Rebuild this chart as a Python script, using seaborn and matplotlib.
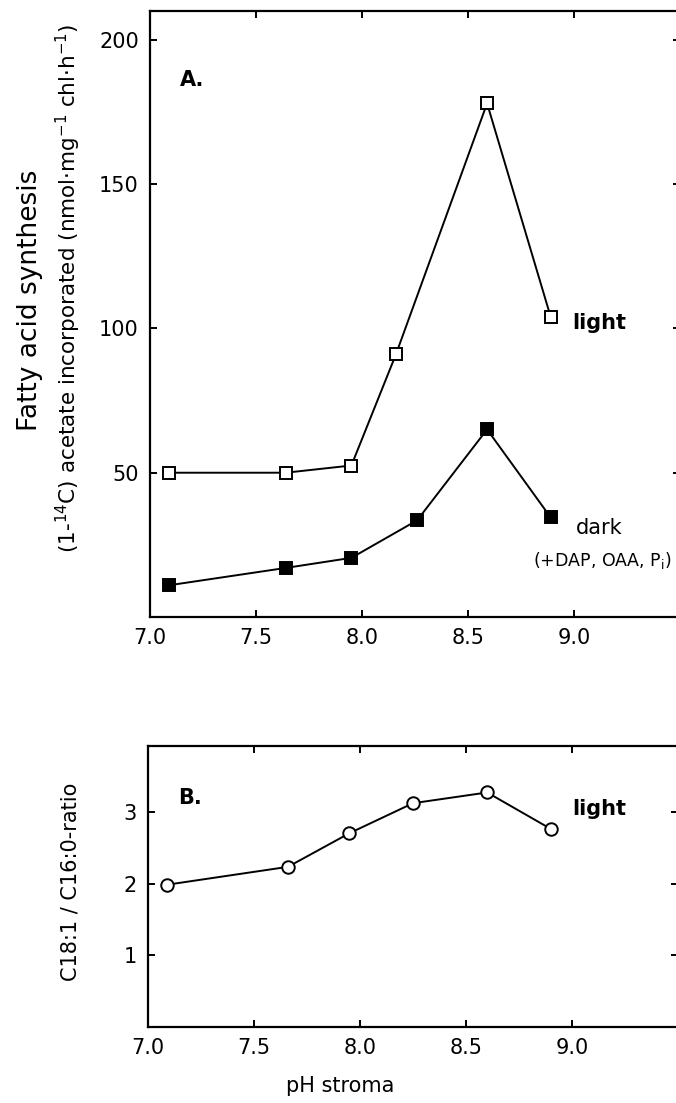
import matplotlib
matplotlib.use("Agg")
import matplotlib.pyplot as plt
import pandas as pd
import seaborn as sns

# panel A: fatty acid synthesis vs stromal pH
ph_light = [7.09, 7.64, 7.95, 8.16, 8.59, 8.89]
fa_light = [50, 50, 52.5, 91, 178, 104]
ph_dark = [7.09, 7.64, 7.95, 8.26, 8.59, 8.89]
fa_dark = [11, 17, 20.5, 33.5, 65, 34.5]

# panel B: C18:1 / C16:0 ratio (light)
ph_ratio = [7.09, 7.66, 7.95, 8.25, 8.60, 8.90]
ratio_light = [1.99, 2.24, 2.71, 3.13, 3.28, 2.77]

x_ticks = [7.0, 7.5, 8.0, 8.5, 9.0]
x_ticklabels = ["7.0", "7.5", "8.0", "8.5", "9.0"]
a_yticks = [50, 100, 150, 200]
b_yticks = [1, 2, 3]


def style_axis(ax):
	for side in ["left", "right", "top", "bottom"]:
		ax.spines[side].set_visible(True)
		ax.spines[side].set_linewidth(1.6)
		ax.spines[side].set_color("black")
	ax.tick_params(direction="in", length=5, width=1.4, top=True, right=True,
		labelsize=15, pad=8, colors="black")
	ax.set_xticks(x_ticks)
	ax.set_xticklabels(x_ticklabels)
	ax.set_xlabel("")
	ax.set_ylabel("")
	ax.grid(False)


def main() -> None:
	sns.set_style("ticks")
	plt.rcParams["font.family"] = ["DejaVu Sans"]
	plt.rcParams["mathtext.default"] = "regular"
	plt.rcParams["text.color"] = "black"

	df_light = pd.DataFrame({"ph": ph_light, "val": fa_light})
	df_dark = pd.DataFrame({"ph": ph_dark, "val": fa_dark})
	df_ratio = pd.DataFrame({"ph": ph_ratio, "val": ratio_light})

	W, H = 676, 1103
	fig = plt.figure(figsize=(W / 100, H / 100), dpi=100)
	px_per_unit = 212
	xmax = 9.5
	width = px_per_unit * (xmax - 7.0) / W

	ax_a = fig.add_axes([150 / W, 1 - 617 / H, width, 606 / H])
	ax_b = fig.add_axes([148 / W, 1 - 1027 / H, width, 281 / H])

	line_kw = dict(color="black", linewidth=1.4, markersize=9, markeredgewidth=1.4,
		markeredgecolor="black", sort=False, estimator=None)

	sns.lineplot(data=df_light, x="ph", y="val", marker="s", markerfacecolor="white",
		ax=ax_a, **line_kw)
	sns.lineplot(data=df_dark, x="ph", y="val", marker="s", markerfacecolor="black",
		ax=ax_a, **line_kw)
	ax_a.set_xlim(7.0, xmax)
	ax_a.set_ylim(0, 210)
	ax_a.set_yticks(a_yticks)
	style_axis(ax_a)

	sns.lineplot(data=df_ratio, x="ph", y="val", marker="o", markerfacecolor="white",
		ax=ax_b, **line_kw)
	ax_b.set_xlim(7.0, xmax)
	ax_b.set_ylim(0, 3.93)
	ax_b.set_yticks(b_yticks)
	style_axis(ax_b)

	# panel letters and series labels
	ax_a.text(7.14, 186, "A.", fontsize=15, fontweight="bold", va="center")
	ax_a.text(8.99, 102, "light", fontsize=15, fontweight="bold", va="center")
	ax_a.text(9.01, 31, "dark", fontsize=15, va="center")
	ax_a.text(9.46, 19.5, r"(+DAP, OAA, P$_{i}$)", fontsize=12.5, va="center",
		ha="right")
	ax_b.text(7.14, 3.2, "B.", fontsize=15, fontweight="bold", va="center")
	ax_b.text(9.0, 3.05, "light", fontsize=15, fontweight="bold", va="center")

	# axis titles
	fig.text(30 / W, 1 - 300 / H, "Fatty acid synthesis", rotation=90,
		fontsize=19, ha="center", va="center")
	fig.text(68 / W, 1 - 288 / H,
		r"(1-$^{14}$C) acetate incorporated (nmol·mg$^{-1}$ chl·h$^{-1}$)",
		rotation=90, fontsize=15.5, ha="center", va="center")
	fig.text(70 / W, 1 - 882 / H, "C18:1 / C16:0-ratio", rotation=90,
		fontsize=15, ha="center", va="center")
	fig.text(340 / W, 1 - 1086 / H, "pH stroma", fontsize=15,
		ha="center", va="center")

	fig.savefig("out.png", dpi=100)
	plt.close(fig)


if __name__ == "__main__":
	main()
